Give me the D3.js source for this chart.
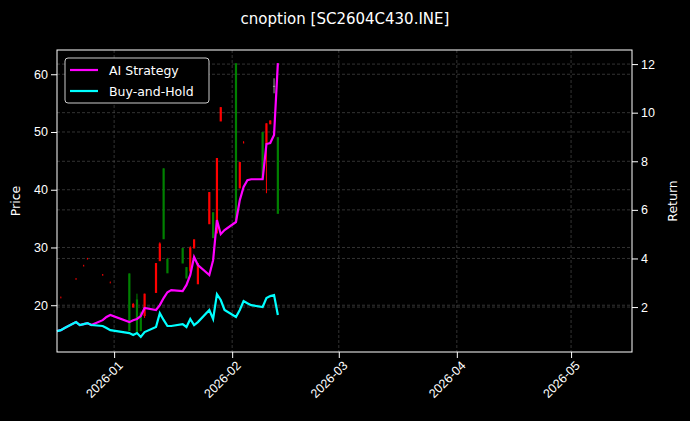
<!DOCTYPE html>
<html><head><meta charset="utf-8">
<script src="https://cdn.jsdelivr.net/npm/d3@7"></script>
<style>body{margin:0;background:#000}svg{display:block}</style>
</head><body><div id="chart"></div>
<script>
const dates = ['2025-12-17','2025-12-18','2025-12-19','2025-12-22','2025-12-23','2025-12-24','2025-12-25','2025-12-26','2025-12-29','2025-12-30','2025-12-31',
  '2026-01-05','2026-01-06','2026-01-07','2026-01-08','2026-01-09','2026-01-12','2026-01-13','2026-01-14','2026-01-15','2026-01-16',
  '2026-01-19','2026-01-20','2026-01-21','2026-01-22','2026-01-23','2026-01-26','2026-01-27','2026-01-28','2026-01-29','2026-01-30',
  '2026-02-02','2026-02-03','2026-02-04','2026-02-05','2026-02-06','2026-02-09','2026-02-10','2026-02-11','2026-02-12','2026-02-13'];
const holdReturn = [1.01,1.05,1.14,1.38,1.26,1.30,1.34,1.26,1.22,1.14,1.05,0.93,0.85,0.93,0.77,0.97,1.18,1.75,1.47,1.22,1.22,
  1.30,1.18,1.51,1.26,1.38,1.88,1.51,2.53,2.29,1.88,1.59,1.88,2.25,2.16,2.08,2.00,2.37,2.45,2.49,1.67];
const aiReturn = [1.01,1.05,1.14,1.38,1.26,1.30,1.34,1.26,1.46,1.59,1.67,1.38,1.46,1.51,1.63,1.96,1.88,2.08,2.37,2.61,2.70,
  2.66,2.91,3.32,4.06,3.73,3.32,3.93,5.58,5.00,5.17,5.50,6.40,6.94,7.22,7.26,7.26,8.71,8.75,9.08,12.04];
// candles: [date, open, close, high, low]
const candles = [
  ['2025-12-18',21.4,21.3,21.5,21.3],['2025-12-22',24.6,24.5,24.7,24.5],['2025-12-24',26.9,26.8,27.0,26.8],
  ['2025-12-25',28.1,28.0,28.2,28.0],['2025-12-29',25.3,25.2,25.4,25.2],['2025-12-31',24.0,23.9,24.1,23.9],
  ['2026-01-05',15.7,25.5,25.5,15.7],['2026-01-06',20.2,19.8,20.4,19.6],['2026-01-07',15.5,21.0,22.0,15.2],
  ['2026-01-08',15.7,18.7,18.9,15.5],['2026-01-09',22.0,18.3,22.0,17.8],['2026-01-12',27.3,22.3,27.3,22.3],
  ['2026-01-13',30.7,27.8,30.9,27.8],['2026-01-14',31.6,43.7,43.7,31.6],['2026-01-15',25.7,28.0,28.2,25.7],
  ['2026-01-19',27.4,29.9,29.9,27.4],['2026-01-20',24.8,26.6,26.6,24.8],['2026-01-21',30.0,26.0,30.2,26.0],
  ['2026-01-22',31.4,30.0,31.4,30.0],['2026-01-23',27.3,23.8,27.3,23.8],['2026-01-26',39.6,34.2,39.6,34.2],
  ['2026-01-27',31.8,36.1,36.1,31.8],['2026-01-28',45.5,32.6,45.5,32.6],['2026-01-29',54.3,52.0,54.3,52.0],
  ['2026-02-02',34.7,61.9,61.9,34.7],['2026-02-03',44.8,40.4,44.8,40.4],['2026-02-04',48.3,48.1,48.4,48.1],
  ['2026-02-09',42.0,50.0,50.0,42.0],['2026-02-10',51.5,48.0,51.5,39.4],['2026-02-11',52.0,51.5,52.0,51.5],
  ['2026-02-12',58.0,58.0,59.3,56.7],['2026-02-13',36.0,49.1,49.1,36.0]
];
const monthTicks = ['2026-01-01','2026-02-01','2026-03-01','2026-04-01','2026-05-01'];
const priceTicks = [20,30,40,50,60];
const returnTicks = [2,4,6,8,10,12];

const W = 690, H = 421, m = {l:57, r:58, t:50, b:69};
const parse = d3.timeParse('%Y-%m-%d');
const svg = d3.select('#chart').append('svg').attr('width', W).attr('height', H)
  .style('font-family', 'DejaVu Sans').style('background', '#000');
const x = d3.scaleTime().domain([parse('2025-12-17'), parse('2026-05-17')]).range([m.l, W - m.r]);
const yP = d3.scaleLinear().domain([11.9, 64.2]).range([H - m.b, m.t]);
const yR = d3.scaleLinear().domain([0.15, 12.58]).range([H - m.b, m.t]);

const grid = svg.append('g').attr('stroke', '#555').attr('stroke-dasharray', '3,2').attr('stroke-width', 0.6);
monthTicks.forEach(t => grid.append('line').attr('x1', x(parse(t))).attr('x2', x(parse(t))).attr('y1', m.t).attr('y2', H - m.b));
priceTicks.forEach(t => grid.append('line').attr('x1', m.l).attr('x2', W - m.r).attr('y1', yP(t)).attr('y2', yP(t)));
returnTicks.forEach(t => grid.append('line').attr('x1', m.l).attr('x2', W - m.r).attr('y1', yR(t)).attr('y2', yR(t)));

const c = svg.append('g');
candles.forEach(d => {
  const cx = x(parse(d[0]));
  const col = d[2] > d[1] ? '#008000' : (d[2] < d[1] ? '#ff0000' : '#a0a0a0');
  const tiny = Math.abs(d[3] - d[4]) < 0.5;
  c.append('line').attr('x1', cx).attr('x2', cx).attr('y1', yP(d[3])).attr('y2', yP(d[4])).attr('stroke', col).attr('stroke-width', 1);
  c.append('line').attr('x1', cx).attr('x2', cx).attr('y1', yP(Math.max(d[1], d[2]))).attr('y2', yP(Math.min(d[1], d[2])) + (tiny ? 0.8 : 1))
    .attr('stroke', col).attr('stroke-width', tiny ? 1.2 : 2.2).attr('opacity', tiny ? 0.6 : 1);
});

const line = vals => d3.line().x((d, i) => x(parse(dates[i]))).y(d => yR(d))(vals);
svg.append('path').attr('d', line(aiReturn)).attr('fill', 'none').attr('stroke', '#ff00ff').attr('stroke-width', 2.2);
svg.append('path').attr('d', line(holdReturn)).attr('fill', 'none').attr('stroke', '#00ffff').attr('stroke-width', 2.2);

svg.append('rect').attr('x', m.l).attr('y', m.t).attr('width', W - m.l - m.r).attr('height', H - m.t - m.b)
  .attr('fill', 'none').attr('stroke', '#fff').attr('stroke-width', 1);

const axB = svg.append('g').attr('transform', `translate(0,${H - m.b})`)
  .call(d3.axisBottom(x).tickValues(monthTicks.map(parse)).tickFormat(d3.timeFormat('%Y-%m')).tickSizeOuter(0));
axB.selectAll('text').attr('transform', 'rotate(-45)').attr('text-anchor', 'end').attr('dx', '-0.3em').attr('dy', '0.6em');
const axL = svg.append('g').attr('transform', `translate(${m.l},0)`).call(d3.axisLeft(yP).tickValues(priceTicks).tickSizeOuter(0));
const axR = svg.append('g').attr('transform', `translate(${W - m.r},0)`).call(d3.axisRight(yR).tickValues(returnTicks).tickSizeOuter(0));
[axB, axL, axR].forEach(a => {
  a.select('.domain').remove();
  a.selectAll('line').attr('stroke', '#fff');
  a.selectAll('text').attr('fill', '#fff').style('font-size', '12.5px');
});

svg.append('text').attr('x', 345).attr('y', 24).attr('text-anchor', 'middle').attr('fill', '#fff').style('font-size', '15px').text('cnoption [SC2604C430.INE]');
svg.append('text').attr('transform', `translate(20,${(m.t + H - m.b) / 2}) rotate(-90)`).attr('text-anchor', 'middle').attr('fill', '#fff').style('font-size', '12.5px').text('Price');
svg.append('text').attr('transform', `translate(677,${(m.t + H - m.b) / 2}) rotate(-90)`).attr('text-anchor', 'middle').attr('fill', '#fff').style('font-size', '12.5px').text('Return');

const lg = svg.append('g').attr('transform', 'translate(65,58)');
lg.append('rect').attr('width', 144).attr('height', 45).attr('rx', 3).attr('fill', '#000').attr('stroke', '#ccc');
[['AI Strategy', '#ff00ff'], ['Buy-and-Hold', '#00ffff']].forEach((d, i) => {
  lg.append('line').attr('x1', 5).attr('x2', 33).attr('y1', 12 + i * 21).attr('y2', 12 + i * 21).attr('stroke', d[1]).attr('stroke-width', 2.2);
  lg.append('text').attr('x', 44).attr('y', 17 + i * 21).attr('fill', '#fff').style('font-size', '12.5px').text(d[0]);
});
</script></body></html>
